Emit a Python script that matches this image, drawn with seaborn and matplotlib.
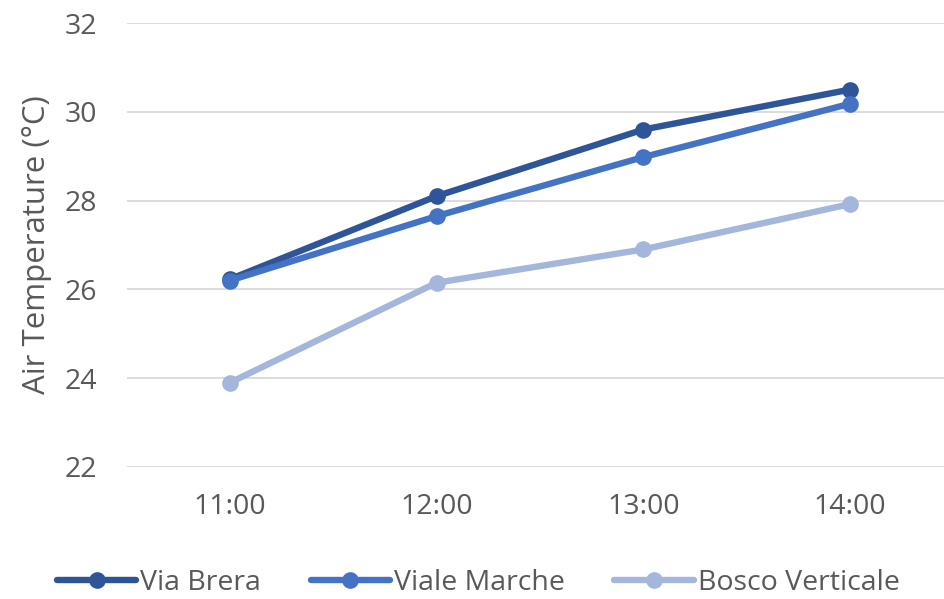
import matplotlib
matplotlib.use("Agg")
import matplotlib.pyplot as plt
import seaborn as sns
import pandas as pd

hours = ["11:00", "12:00", "13:00", "14:00"]
via_brera = [26.23, 28.10, 29.60, 30.50]
viale_marche = [26.20, 27.65, 28.98, 30.18]
bosco_verticale = [23.90, 26.15, 26.90, 27.92]
series_names = ["Via Brera", "Viale Marche", "Bosco Verticale"]
y_ticks = [22, 24, 26, 28, 30, 32]

colors = ["#2E5597", "#4472C4", "#A5B6DD"]
text_color = "#595959"

df = pd.DataFrame({
    "hour": hours * 3,
    "temp": via_brera + viale_marche + bosco_verticale,
    "site": sum([[n] * len(hours) for n in series_names], []),
})

sns.set_theme(style="white")
plt.rcParams["font.family"] = ["Open Sans", "DejaVu Sans"]

fig = plt.figure(figsize=(9.45, 5.99), dpi=100)
ax = fig.add_axes([0.134, 0.2204, 0.866, 0.7412])

sns.lineplot(data=df, x="hour", y="temp", hue="site", palette=colors,
             marker="o", markersize=12, markeredgewidth=0, linewidth=4.6,
             sort=False, ax=ax)

ax.set_ylim(22, 32)
ax.set_xlim(-0.5, 3.46)
ax.set_yticks(y_ticks)
ax.yaxis.grid(True, color="#D9D9D9", linewidth=1.3)
ax.xaxis.grid(False)
for s in ax.spines.values():
    s.set_visible(False)
ax.tick_params(axis="both", length=0, labelsize=20.5, colors=text_color)
ax.tick_params(axis="y", pad=21)
ax.tick_params(axis="x", pad=19)
ax.set_xlabel("")
ax.set_ylabel("Air Temperature (°C)", fontsize=22.5, color=text_color, labelpad=9)

handles, labels = ax.get_legend_handles_labels()
ax.get_legend().remove()
fig.legend(handles, labels, loc="center left", bbox_to_anchor=(0.06, 0.026),
           ncol=3, frameon=False, fontsize=20.5, labelcolor=text_color,
           handlelength=2.8, handletextpad=0.12, columnspacing=1.75,
           borderaxespad=0, borderpad=0)

fig.savefig("out.png", dpi=100)
